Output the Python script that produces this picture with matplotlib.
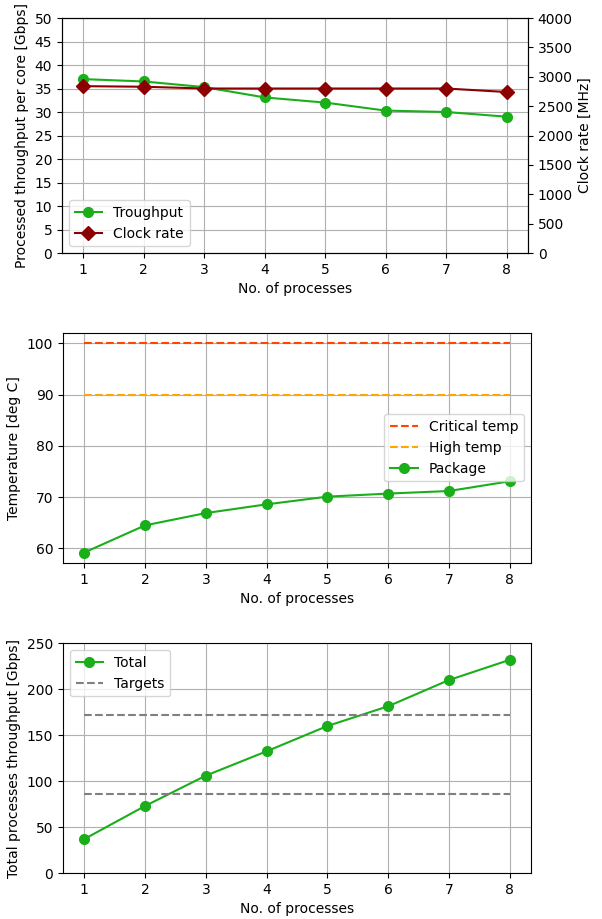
import numpy as np
import matplotlib
matplotlib.use("Agg")
import matplotlib.pyplot as plt

processes = [1, 2, 3, 4, 5, 6, 7, 8]
throughput_per_core = [37.0, 36.5, 35.3, 33.1, 32.0, 30.3, 30.0, 29.0]
clock_rate = [2840, 2830, 2800, 2800, 2800, 2800, 2800, 2740]
critical_temp = [100] * 8
high_temp = [90] * 8
package_temp = [59.2, 64.5, 66.9, 68.6, 70.1, 70.7, 71.2, 73.1]
total_throughput = [37.0, 73.0, 106.0, 132.5, 160.0, 181.5, 210.0, 232.0]
targets = [86, 172]

green = '#1aaf1a'

fig = plt.figure(figsize=(6.02, 9.19), dpi=100)

# Panel 1: per-core throughput + clock rate
ax1 = fig.add_axes([0.103, 0.7247, 0.774, 0.2557])
ax1.plot(processes, throughput_per_core, '-o', color=green, markersize=7, label='Troughput')
ax1.set_ylim(0, 50)
ax1.set_yticks(np.arange(0, 51, 5))
ax1.set_ylabel('Processed throughput per core [Gbps]')
ax1.set_xlabel('No. of processes')
ax1.grid(True)
ax1r = ax1.twinx()
ax1r.plot(processes, clock_rate, '-D', color='darkred', markersize=7, label='Clock rate')
ax1r.set_ylim(0, 4000)
ax1r.set_yticks(np.arange(0, 4001, 500))
ax1r.set_ylabel('Clock rate [MHz]')
h1, l1 = ax1.get_legend_handles_labels()
h2, l2 = ax1r.get_legend_handles_labels()
ax1.legend(h1 + h2, l1 + l2, loc='lower left')

# Panel 2: temperatures
ax2 = fig.add_axes([0.1047, 0.3874, 0.7773, 0.2503])
ax2.plot(processes, critical_temp, '--', color='orangered', label='Critical temp')
ax2.plot(processes, high_temp, '--', color='orange', label='High temp')
ax2.plot(processes, package_temp, '-o', color=green, markersize=7, label='Package')
ax2.set_ylabel('Temperature [deg C]')
ax2.set_xlabel('No. of processes')
ax2.grid(True)
ax2.legend(loc='center right')

# Panel 3: total throughput
ax3 = fig.add_axes([0.1047, 0.05, 0.7773, 0.25])
ax3.plot(processes, total_throughput, '-o', color=green, markersize=7, label='Total')
for i, t in enumerate(targets):
    ax3.plot(processes, [t] * len(processes), '--', color='gray',
             label='Targets' if i == 0 else None)
ax3.set_ylim(0, 250)
ax3.set_ylabel('Total processes throughput [Gbps]')
ax3.set_xlabel('No. of processes')
ax3.grid(True)
ax3.legend(loc='upper left')

fig.savefig('out.png', dpi=100)
